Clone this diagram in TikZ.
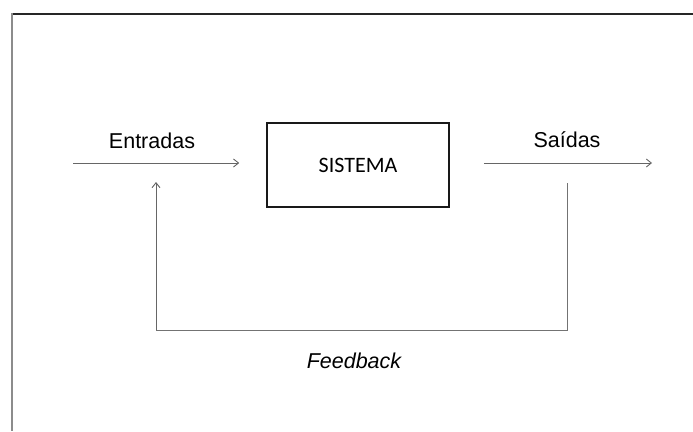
\documentclass[tikz,border=0pt]{standalone}
\usepackage{fontspec}
\setmainfont{Liberation Sans}
\newfontfamily\boxfont{Carlito}
\usetikzlibrary{arrows.meta}
\tikzset{
  flow/.style={draw=black!60, line width=0.9pt, -{Straight Barb[length=5pt,width=8pt,line width=0.9pt]}},
  loopline/.style={draw=black!55, line width=1pt},
  label/.style={inner sep=0pt, font=\fontsize{21.5}{26}\selectfont},
  sysbox/.style={draw=black!90, line width=1.6pt, minimum width=182pt, minimum height=84pt,
    inner sep=0pt, font=\boxfont\fontsize{22}{26}\selectfont},
}
\begin{document}
\begin{tikzpicture}[x=1pt,y=-1pt]
  \useasboundingbox (0,0) rectangle (693,431);
  % page frame
  \draw[black!85, line width=1.6pt] (12,14) -- (693,14);
  \draw[black!45, line width=1.6pt] (12,13.2) -- (12,431);

  % system block
  \node[sysbox] (sys) at (358,165) {SISTEMA};

  % input and output
  \coordinate (inL) at (73,163);
  \coordinate (outR) at (652,163);
  \coordinate (inTip) at ([xshift=-27pt]sys.west);
  \coordinate (outS) at ([xshift=34pt]sys.east);
  \draw[flow] (inL) -- (inL -| inTip);
  \draw[flow] (outR -| outS) -- (outR);
  \node[label] (lin) at (152,141) {Entradas};
  \node[label] (lout) at (567,140) {Saídas};

  % feedback loop
  \coordinate (fbS) at (567,183);
  \coordinate (fbR) at (567,330);
  \coordinate (fbL) at (156,330);
  \coordinate (fbE) at (156,182);
  \draw[loopline] (fbS) -- (fbR) -- (fbL);
  \draw[flow] (fbL) -- (fbE);
  \node[label, font=\fontsize{21.5}{26}\selectfont\itshape] (lfb) at (354,361) {Feedback};
\end{tikzpicture}
\end{document}
